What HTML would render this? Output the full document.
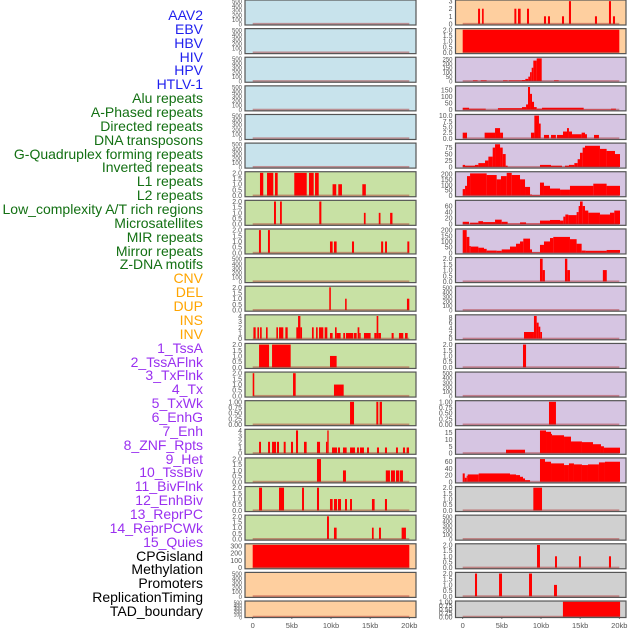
<!DOCTYPE html>
<html><head><meta charset="utf-8">
<style>
html,body{margin:0;padding:0;background:#fff;}
#wrap{position:relative;width:630px;height:630px;overflow:hidden;}
.lab{position:absolute;right:427px;font-family:"Liberation Sans",sans-serif;font-size:14px;line-height:14px;white-space:nowrap;}
svg{position:absolute;left:0;top:0;}
</style></head>
<body>
<div id="wrap">
<svg id="chart" width="630" height="630"></svg>
</div>
<script>
const labels = ["AAV2","EBV","HBV","HIV","HPV","HTLV-1","Alu repeats","A-Phased repeats","Directed repeats","DNA transposons","G-Quadruplex forming repeats","Inverted repeats","L1 repeats","L2 repeats","Low_complexity A/T rich regions","Microsatellites","MIR repeats","Mirror repeats","Z-DNA motifs","CNV","DEL","DUP","INS","INV","1_TssA","2_TssAFlnk","3_TxFlnk","4_Tx","5_TxWk","6_EnhG","7_Enh","8_ZNF_Rpts","9_Het","10_TssBiv","11_BivFlnk","12_EnhBiv","13_ReprPC","14_ReprPCWk","15_Quies","CPGisland","Methylation","Promoters","ReplicationTiming","TAD_boundary"];
const labelGroups = ["v","v","v","v","v","v","r","r","r","r","r","r","r","r","r","r","r","r","r","s","s","s","s","s","c","c","c","c","c","c","c","c","c","c","c","c","c","c","c","o","o","o","o","o"];
const xTicks = [0,5,10,15,20];
const xTickLabels = ["0","5kb","10kb","15kb","20kb"];
const T500 = [0,100,200,300,400,500], T2 = [0,0.5,1,1.5,2], T1 = [0,0.25,0.5,0.75,1], T4 = [0,1,2,3,4];
const leftBg = ["b","b","b","b","b","b","g","g","g","g","g","g","g","g","g","g","g","g","g","p","p","p"];
const rightBg = ["p","p","l","l","l","l","l","l","l","l","l","l","l","l","l","l","l","y","y","y","y","y"];
const leftTicks = [T500,T500,T500,T500,T500,T500,T2,T2,T2,T500,T2,T4,T2,T2,T1,T4,T2,T2,T2,[0,100,200,300],T500,T500];
const rightTicks = [[0,1,2,3],T2,[0,50,100,150,200,250],[0,50,100,150],[0,2.5,5,7.5,10],[0,25,50,75],[0,50,100,150,200],[0,20,40,60],[0,50,100,150,200],T2,T500,[0,2,4,6,8],T2,T500,T1,[0,5,10,15],[0,20,40,60],T2,T500,T2,T2,T1];
const leftSegs = [
[],[],[],[],[],[],
[[0.93,1.35,2],[1.83,2.63,2],[2.85,3.19,2],[5.31,6.9,2],[7.19,7.79,2],[7.96,8.43,2],[10.2,10.67,1],[10.93,11.4,1],[14.0,14.45,1]],
[[2.72,2.97,2],[3.49,3.72,2],[8.5,8.77,2],[14.2,14.42,1],[16.1,16.32,1],[17.55,17.85,1]],
[[0.8,1.05,2],[1.95,2.2,2],[9.87,10.21,1],[10.38,10.72,1],[12.68,12.94,1],[16.4,16.66,1],[16.9,17.15,1],[19.75,20.0,1]],
[],
[[9.78,9.98,2],[11.8,12.0,1],[19.7,20.0,1]],
[[0.09,0.38,2],[0.6,0.81,2],[0.94,1.15,2],[1.7,1.91,2],[3.02,3.23,2],[3.36,3.91,2],[4.17,4.47,2],[5.57,5.83,2],[5.79,6.09,4],[6.09,6.3,2],[7.57,7.79,2],[8.09,8.3,2],[8.47,9.02,2],[9.19,9.53,2],[9.87,10.21,1],[10.51,10.72,2],[10.72,11.23,1],[11.57,11.79,1],[11.91,12.85,1],[12.94,13.28,1],[13.4,13.62,2],[13.62,13.79,1],[14.21,15.06,1],[15.53,15.83,1],[15.83,16.04,4],[16.04,16.38,1],[17.74,18.0,1],[18.68,19.23,1],[19.45,19.79,1]],
[[0.81,2.09,2],[2.47,4.85,2],[9.87,10.72,1]],
[[0.0,0.2,2],[5.15,5.49,2],[10.38,11.62,1]],
[[12.43,12.94,1],[15.79,16.04,1],[16.21,16.51,1]],
[[0.81,1.06,2],[1.96,2.21,2],[2.47,2.98,2],[3.1,3.36,2],[3.96,4.21,2],[4.89,5.15,2],[5.53,5.79,4],[6.55,6.89,2],[8.21,8.6,2],[9.36,9.53,2],[9.53,9.7,4],[10.13,10.77,1],[10.89,11.15,1],[11.53,12.0,1],[12.43,13.06,1],[13.32,13.57,1],[13.7,14.21,1],[14.6,14.85,1],[15.87,16.13,1],[16.89,17.15,1],[18.3,18.55,1],[19.19,19.45,1],[19.66,19.96,1]],
[[8.21,8.72,2],[11.53,11.91,1],[17.0,17.53,1],[17.66,18.17,1],[18.3,18.72,1],[18.8,19.19,1]],
[[0.81,1.19,2],[3.36,4.0,2],[6.3,6.55,2],[8.21,8.47,2],[9.87,10.21,1],[10.38,10.77,1],[10.89,11.28,1],[11.79,12.04,1],[12.43,12.68,1],[15.23,15.57,1],[16.89,17.15,1]],
[[9.49,9.74,2],[10.38,10.72,1],[15.23,15.45,1],[16.13,16.38,1],[19.02,19.57,1]],
[[0.0,20.0,315]],
[],[]
];
const rightSegs = [
[[1.96,2.21,2],[2.47,2.68,2],[6.6,6.85,2],[7.06,7.4,2],[8.21,8.47,2],[10.38,10.64,1],[10.89,11.15,1],[12.68,12.94,1],[13.57,13.83,3],[16.89,17.15,1],[18.68,18.94,3],[19.19,19.45,1]],
[[0.0,20.0,2]],
[[1.3,1.9,8],[2.3,3.06,8],[5.15,5.74,8],[5.87,7.57,8],[7.57,8.0,12],[8.0,8.38,25],[8.38,8.6,50],[8.6,8.81,100],[8.81,9.02,150],[9.02,9.45,230],[9.45,10.09,255],[11.66,12.26,8]],
[[0.0,0.81,15],[0.81,2.94,8],[4.5,7.57,12],[7.57,8.09,20],[8.09,8.34,40],[8.34,8.6,172],[8.6,8.85,120],[8.85,9.11,60],[9.11,9.45,20],[9.45,10.13,8],[10.13,15.45,15],[15.45,18.94,3],[18.94,19.57,8]],
[[0.0,0.55,2.5],[2.8,4.13,2.5],[4.13,4.77,4.5],[4.77,5.15,2.5],[8.72,9.15,2.5],[9.15,9.74,10],[9.74,9.96,6.5],[10.38,11.02,1.5],[11.28,11.9,1.5],[12.04,12.81,1.5],[12.81,13.32,3],[13.32,13.57,4.5],[13.57,13.96,3],[13.96,15.19,1.8],[15.19,15.62,2.5],[15.62,15.87,1.8],[16.77,17.4,1.5]],
[[0.0,0.3,8],[0.3,1.57,5],[1.57,2.0,8],[2.0,2.85,15],[2.85,3.28,25],[3.28,3.83,40],[3.83,4.13,75],[4.13,4.77,88],[4.77,5.11,75],[5.11,5.49,50],[5.49,5.74,5],[9.87,11.28,8],[11.28,12.68,5],[13.06,13.57,5],[13.57,14.26,8],[14.26,14.68,15],[14.68,14.98,30],[14.98,15.32,55],[15.32,15.62,75],[15.62,17.53,82],[17.53,18.38,70],[18.38,19.45,62],[19.45,20.09,50]],
[[0.0,0.3,60],[0.3,0.55,90],[0.55,0.94,180],[0.94,3.06,205],[3.06,4.34,190],[4.34,4.89,150],[4.89,5.62,180],[5.62,6.26,210],[6.26,7.32,190],[7.32,7.96,150],[7.96,8.6,80],[8.6,8.85,10],[8.85,9.87,5],[9.87,10.38,120],[10.38,11.15,90],[11.15,12.43,65],[12.43,13.7,55],[13.7,14.98,90],[14.98,16.68,90],[16.68,18.38,110],[18.38,20.09,90]],
[[0.0,0.81,8],[0.94,2.0,5],[2.0,2.6,10],[2.6,4.13,7],[4.13,4.98,15],[4.98,5.74,8],[5.74,7.32,2],[7.32,8.09,6],[8.09,9.87,2],[9.87,11.15,12],[11.15,12.43,14],[12.43,12.85,12],[12.85,13.11,25],[13.11,13.49,32],[13.49,14.55,30],[14.55,14.81,40],[14.81,14.98,60],[14.98,15.32,75],[15.32,15.62,60],[15.62,16.04,45],[16.04,17.53,38],[17.53,18.81,32],[18.81,19.36,38],[19.36,20.09,45]],
[[0.0,0.51,200],[0.51,0.85,140],[0.85,1.02,60],[1.02,2.0,55],[2.0,2.72,45],[2.72,3.06,35],[3.06,4.34,20],[4.34,4.98,18],[4.98,6.04,30],[6.04,6.81,55],[6.81,7.32,80],[7.32,7.74,100],[7.74,8.6,125],[8.6,8.85,30],[8.85,9.87,5],[9.87,10.38,70],[10.38,11.15,100],[11.15,11.57,130],[11.57,13.7,140],[13.7,14.55,120],[14.55,15.19,80],[15.19,15.7,20],[15.7,18.38,18],[18.38,20.09,25]],
[[9.87,10.21,2],[10.21,10.5,1],[13.06,13.36,2],[13.36,13.7,1],[17.9,18.4,1]],
[],
[[7.83,9.1,2.5],[9.1,9.45,8.5],[9.45,9.7,6],[9.7,9.91,4.5],[9.91,10.13,2.5]],
[[7.7,8.09,2]],
[],
[[11.02,11.91,1]],
[[5.53,7.96,2.5],[9.87,10.64,16.5],[10.64,11.28,15.5],[11.28,11.4,14],[11.4,12.94,13],[12.94,13.83,12],[13.83,15.23,8.5],[15.23,16.64,8],[16.64,17.66,6.5],[17.66,18.04,5],[18.04,20.09,4]],
[[0.0,0.26,25],[0.26,0.51,12],[0.51,0.64,18],[0.64,2.04,22],[2.04,6.04,25],[6.04,6.81,22],[6.81,7.32,20],[7.32,7.7,15],[7.7,7.96,10],[7.96,8.6,5],[9.87,10.51,68],[10.51,11.28,60],[11.28,12.94,55],[12.94,13.57,50],[13.57,14.21,55],[14.21,15.23,52],[15.23,16.0,50],[16.0,17.4,52],[17.4,18.17,58],[18.17,20.09,60]],
[[9.02,10.13,2]],
[],
[[9.49,9.87,2],[11.79,12.04,1],[14.85,15.1,1],[18.68,18.94,1]],
[[1.57,1.83,2],[4.64,5.02,2],[8.47,8.85,2],[11.66,12.04,1]],
[[12.8,20.1,1]]
];

const NS="http://www.w3.org/2000/svg";
const svg=document.getElementById('chart');
const colors={b:"#c8e3ec",g:"#c8e1a4",p:"#fecf9f",l:"#d6c5e2",y:"#d0d0d0"};
const labColors={v:"#1f1fee",r:"#137013",s:"#ffa500",c:"#9a30f0",o:"#000"};
const PITCH=28.62;
const cols=[{x0:245,x1:416,d0:252.7,d1:409.3},{x0:455.5,x1:626,d0:462.7,d1:619.3}];
function mk(tag,attrs){const e=document.createElementNS(NS,tag);for(const k in attrs)e.setAttribute(k,attrs[k]);return e;}
function fmt(t,ticks){
  const step=ticks[1]-ticks[0];
  if(Math.abs(step*10-Math.round(step*10))>1e-9)return t.toFixed(2);
  if(step%1!==0)return t.toFixed(1);
  return String(t);
}

labels.forEach((s,i)=>{
  const d=document.createElement('div');
  d.className='lab';
  d.textContent=s;
  d.style.top=(8+i*13.86)+'px';
  d.style.color=labColors[labelGroups[i]];
  
  
  document.getElementById('wrap').appendChild(d);
});

function drawPanel(ci,row,bg,ticks,segs){
  const c=cols[ci];
  const top=row*PITCH, h=(row===21)?16.5:25;
  const g=mk('g',{});
  
  
  svg.appendChild(g);
  g.appendChild(mk('rect',{x:c.x0,y:top,width:c.x1-c.x0,height:h,fill:colors[bg]}));
  let M=ticks[ticks.length-1];
  segs.forEach(s=>{if(s[2]>M)M=s[2];});
  const lo=-0.05*M, hi=1.05*M;
  const yv=v=>top+h-((v-lo)/(hi-lo))*h;
  const xv=k=>c.d0+(k/20)*(c.d1-c.d0);
  segs.forEach(s=>{
    const r=mk('rect',{x:xv(s[0]),y:yv(s[2]),width:Math.max(1,xv(s[1])-xv(s[0])),height:yv(0)-yv(s[2]),fill:"#ff0000"});
    
    
    g.appendChild(r);
  });
  g.appendChild(mk('rect',{x:xv(0),y:yv(0)-1,width:xv(20)-xv(0),height:2,fill:"rgba(170,40,40,0.45)"}));
  g.appendChild(mk('rect',{x:c.x0,y:top,width:c.x1-c.x0,height:h,fill:"none",stroke:"#555",'stroke-width':1.2}));
  const fs=ticks.length>5&&h<20?5:(ticks.length>5?6:7);
  ticks.forEach(t=>{
    const tx=mk('text',{x:c.x0-3,y:yv(t)+2.5,'text-anchor':'end','font-family':'Liberation Sans, sans-serif','font-size':fs,fill:'#555'});
    tx.textContent=fmt(t,ticks);
    
    
    g.appendChild(tx);
  });
}
for(let r=0;r<22;r++){
  drawPanel(0,r,leftBg[r],leftTicks[r],leftSegs[r]);
  drawPanel(1,r,rightBg[r],rightTicks[r],rightSegs[r]);
}
cols.forEach((c,ci)=>{
  xTicks.forEach((k,i)=>{
    const x=c.d0+(k/20)*(c.d1-c.d0);
    svg.appendChild(mk('line',{x1:x,x2:x,y1:617,y2:619,stroke:'#555','stroke-width':0.8}));
    const t=mk('text',{x:x,y:628,'text-anchor':'middle','font-family':'Liberation Sans, sans-serif','font-size':7.5,fill:'#555'});
    t.textContent=xTickLabels[i];
    
    
    svg.appendChild(t);
  });
});
</script>
</body></html>
